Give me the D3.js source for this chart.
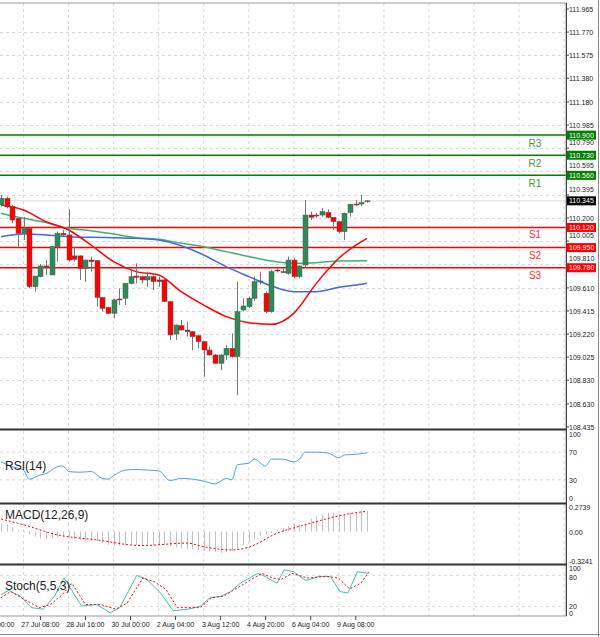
<!DOCTYPE html>
<html><head><meta charset="utf-8">
<script src="https://cdn.jsdelivr.net/npm/d3@7"></script>
<style>body{margin:0;background:#fff}svg{display:block;font-family:"Liberation Sans",Arial,sans-serif}</style>
</head><body><svg id="c" width="600" height="637"></svg>
<script>
const opens=[110.310,110.366,110.296,110.197,110.071,110.113,109.620,109.705,109.795,109.719,109.958,110.071,110.057,109.880,109.880,109.775,109.845,109.840,109.530,109.446,109.395,109.516,109.522,109.648,109.710,109.705,109.677,109.705,109.677,109.677,109.494,109.220,109.291,109.254,109.240,109.206,109.156,109.085,109.043,108.973,109.043,109.100,109.029,109.423,109.451,109.522,109.662,109.564,109.409,109.761,109.747,109.733,109.845,109.705,109.803,110.225,110.225,110.225,110.248,110.206,110.169,110.085,110.245,110.318,110.318,110.341];
const highs=[110.394,110.380,110.310,110.197,110.211,110.113,109.710,109.812,109.845,109.958,110.085,110.099,110.273,109.958,109.885,109.850,109.874,109.845,109.530,109.450,109.520,109.606,109.648,109.775,109.817,109.715,109.747,109.715,109.705,109.690,109.500,109.300,109.339,109.325,109.245,109.215,109.160,109.114,109.050,109.050,109.128,109.226,109.662,109.522,109.536,109.705,109.747,109.580,109.760,109.775,109.775,109.874,109.860,109.800,110.352,110.254,110.240,110.282,110.273,110.210,110.175,110.245,110.320,110.352,110.394,110.350];
const lows=[110.296,110.282,110.155,109.958,110.014,109.606,109.578,109.699,109.719,109.719,109.831,110.050,109.831,109.831,109.677,109.662,109.747,109.451,109.409,109.390,109.353,109.465,109.465,109.640,109.648,109.648,109.620,109.592,109.620,109.490,109.170,109.170,109.250,109.198,109.085,109.100,108.860,109.040,108.970,108.917,109.001,109.020,108.705,109.410,109.440,109.500,109.640,109.395,109.400,109.740,109.740,109.720,109.691,109.690,109.783,110.183,110.200,110.210,110.197,110.099,110.071,110.014,110.211,110.300,110.300,110.330];
const closes=[110.366,110.296,110.183,110.071,110.113,109.620,109.710,109.795,109.783,109.958,110.071,110.057,109.845,109.851,109.775,109.845,109.831,109.530,109.437,109.395,109.508,109.508,109.648,109.705,109.699,109.677,109.705,109.662,109.662,109.494,109.212,109.296,109.254,109.240,109.198,109.156,109.085,109.043,108.973,109.043,109.100,109.029,109.409,109.457,109.522,109.662,109.668,109.409,109.747,109.755,109.741,109.845,109.705,109.795,110.225,110.206,110.217,110.254,110.206,110.169,110.085,110.240,110.316,110.310,110.330,110.345];
const maIdx=[0,4,8,12,16,20,24,28,32,36,40,44,48,52,56,60,64,65];
const maRed=[110.310,110.268,110.169,110.099,109.972,109.831,109.747,109.719,109.578,109.465,109.367,109.316,109.302,109.395,109.648,109.860,110.000,110.028];
const maGreen=[110.240,110.197,110.161,110.113,110.093,110.065,110.034,110.020,109.986,109.958,109.916,109.874,109.837,109.817,109.823,109.837,109.840,109.840];
const maBlue=[110.042,110.065,110.057,110.042,110.037,110.034,110.028,110.014,109.966,109.888,109.789,109.705,109.626,109.578,109.578,109.615,109.640,109.648];
const levels=[{n:"R3",v:110.900,t:"110.900"},{n:"R2",v:110.730,t:"110.730"},{n:"R1",v:110.560,t:"110.560"},{n:"S1",v:110.120,t:"110.120"},{n:"S2",v:109.950,t:"109.950"},{n:"S3",v:109.780,t:"109.780"}];
const priceTicks=["111.965","111.770","111.575","111.380","111.180","110.985","110.790","110.595","110.395","110.200","110.005","109.810","109.610","109.415","109.220","109.025","108.830","108.630","108.435"];
const lastPrice="110.345";
const rsiIdx=[0,2,4,5,7,8,10,11,12,14,16,18,19,20,22,24,26,28,30,32,34,36,38,40,41,42,44,45,47,48,50,52,53,54,56,58,60,61,63,65];
const rsiVal=[56,49,44,31,37,39,49,50,42,41,42,32,31,36,44,45,44,43,29,32,31,28,24,32,30,52,54,60,50,60,60,56,60,70,70,69,62,66,67,69];
const macdHist=[0.09,0.08,0.05,0.02,-0.01,-0.03,-0.06,-0.08,-0.08,-0.07,-0.06,-0.06,-0.07,-0.08,-0.09,-0.1,-0.1,-0.11,-0.13,-0.15,-0.16,-0.16,-0.16,-0.15,-0.15,-0.15,-0.15,-0.15,-0.15,-0.15,-0.16,-0.18,-0.19,-0.2,-0.2,-0.21,-0.22,-0.23,-0.23,-0.24,-0.23,-0.22,-0.2,-0.15,-0.12,-0.09,-0.05,-0.03,-0.02,0.02,0.04,0.06,0.08,0.08,0.09,0.14,0.17,0.19,0.21,0.21,0.2,0.19,0.21,0.22,0.23,0.23];
const sigIdx=[0,4,10,17,25,33,36,41,44,49,54,59,63,65];
const sigVal=[0.14,0.075,-0.037,-0.094,-0.157,-0.13,-0.17,-0.206,-0.176,-0.02,0.075,0.16,0.21,0.225];
const stIdx=[0,1.4,3.4,5.4,7.5,9.5,11.2,14.3,17,19.4,21.1,24.1,25.9,28.2,30.6,33.3,35.4,37.1,39.1,40.8,42.5,45.6,46.9,49,50.3,52,54.1,56.5,58.5,60.2,61.6,63.3,65.3];
const stK=[43,51,40,18,15,40,75,21,24,8,18,80,72,48,12,15,21,37,40,49,65,84,78,65,91,87,70,78,78,49,46,87,84];
const sdIdx=[0,1.7,4.1,6.8,8.8,10.9,12.6,15,17.7,20.4,22.4,25.2,27.2,29.3,31.3,35.4,37.4,39.5,42.9,46.3,48.3,49.7,51.7,54.4,57.8,59.9,61.9,63.9,65.3];
const stD=[37,49,34,18,24,43,65,24,24,15,27,75,68,53,18,18,37,40,62,84,75,72,84,75,78,75,54,65,86];
const dateLabels=["26 Jul 00:00","27 Jul 08:00","28 Jul 16:00","30 Jul 00:00","2 Aug 04:00","3 Aug 12:00","4 Aug 20:00","6 Aug 04:00","9 Aug 08:00"];
const dateIdx=[-1,7,15,23,31,39,47,55,63];

const svg=d3.select("#c");
const R=566, L=0;
const x=d3.scaleLinear().domain([0,65]).range([1,367]);
const main={t:3,b:428}, rsiP={t:431,b:501}, macdP={t:505,b:563}, stP={t:566,b:616};
const y=d3.scaleLinear().domain([108.435,111.965]).range([427,9]);
const yR=d3.scaleLinear().domain([0,100]).range([500.5,431.5]);
const yM=d3.scaleLinear().domain([-0.3241,0.2739]).range([560.5,507]);
const yS=d3.scaleLinear().domain([0,100]).range([617,565]);
const grid="#d8d8d8";
const vg=[];for(let i=4;x(i)<R;i+=8)vg.push(i);
[main,rsiP,macdP,stP].forEach(p=>{
  svg.append("g").selectAll("line").data(vg).join("line").attr("x1",d=>x(d)).attr("x2",d=>x(d)).attr("y1",p.t).attr("y2",p.b).attr("stroke",grid).attr("stroke-dasharray","3,3");
});
svg.append("g").selectAll("line").data(priceTicks.slice(1,-1)).join("line").attr("x1",L).attr("x2",R).attr("y1",d=>Math.round(y(+d))+.5).attr("y2",d=>Math.round(y(+d))+.5).attr("stroke",grid).attr("stroke-dasharray","3,3");
[30,70].forEach(v=>svg.append("line").attr("x1",L).attr("x2",R).attr("y1",yR(v)).attr("y2",yR(v)).attr("stroke",grid).attr("stroke-dasharray","3,3"));
[20,80].forEach(v=>svg.append("line").attr("x1",L).attr("x2",R).attr("y1",yS(v)).attr("y2",yS(v)).attr("stroke",grid).attr("stroke-dasharray","3,3"));
svg.append("line").attr("x1",L).attr("x2",R).attr("y1",y(+lastPrice)).attr("y2",y(+lastPrice)).attr("stroke","#e6e6e6").attr("stroke-width",1.5);
const lc=d=>d.n[0]==="R"?"#008000":"#ff0000";
svg.append("g").selectAll("line").data(levels).join("line").attr("x1",L).attr("x2",R).attr("y1",d=>y(d.v)).attr("y2",d=>y(d.v)).attr("stroke",lc).attr("stroke-width",1.5);
svg.append("g").selectAll("text").data(levels).join("text").attr("x",535).attr("y",d=>y(d.v)+(d.n[0]==="R"?12:11)).attr("text-anchor","middle").attr("font-size",10).attr("fill",d=>d.n[0]==="R"?"#3c9a3c":"#ff3030").text(d=>d.n);
const ln=(arrI,arrV,ys)=>d3.line().x((d,i)=>x(arrI[i])).y(d=>ys(d)).curve(d3.curveMonotoneX)(arrV);
svg.append("path").attr("d",ln(maIdx,maGreen,y)).attr("fill","none").attr("stroke","#3cb371").attr("stroke-width",1.5);
svg.append("path").attr("d",ln(maIdx,maBlue,y)).attr("fill","none").attr("stroke","#4169e1").attr("stroke-width",1.5);
svg.append("path").attr("d",ln(maIdx,maRed,y)).attr("fill","none").attr("stroke","#ff0000").attr("stroke-width",1.5);
const cg=svg.append("g");
opens.forEach((o,i)=>{
  const c=closes[i],cx=Math.round(x(i))+.5,up=c>=o;
  cg.append("line").attr("x1",cx).attr("x2",cx).attr("y1",y(highs[i])).attr("y2",y(lows[i])).attr("stroke","#777");
  const t=y(Math.max(o,c)),h=Math.max(1,Math.abs(y(o)-y(c)));
  cg.append("rect").attr("x",cx-2.5).attr("y",t).attr("width",5).attr("height",h).attr("fill",up?"#2e8b57":"#ff0000").attr("stroke","#555").attr("stroke-width",0.5);
});
svg.append("path").attr("d",ln(rsiIdx,rsiVal,yR)).attr("fill","none").attr("stroke","#4aa0ee").attr("stroke-width",1);
svg.append("g").selectAll("line").data(macdHist).join("line").attr("x1",(d,i)=>Math.round(x(i))+.5).attr("x2",(d,i)=>Math.round(x(i))+.5).attr("y1",yM(0)).attr("y2",d=>yM(d)).attr("stroke","#c0c0c0");
svg.append("path").attr("d",ln(sigIdx,sigVal,yM)).attr("fill","none").attr("stroke","#ff0000").attr("stroke-dasharray","2,2");
svg.append("path").attr("d",d3.line().x((d,i)=>x(stIdx[i])).y(d=>yS(d))(stK)).attr("fill","none").attr("stroke","#40c0c0");
svg.append("path").attr("d",d3.line().x((d,i)=>x(sdIdx[i])).y(d=>yS(d))(stD)).attr("fill","none").attr("stroke","#ff0000").attr("stroke-dasharray","2,2");
const pl=[["RSI(14)",470],["MACD(12,26,9)",519],["Stoch(5,5,3)",590]];
pl.forEach(p=>svg.append("text").attr("x",5).attr("y",p[1]).attr("font-size",12).attr("fill","#222").text(p[0]));
svg.append("rect").attr("x",-1).attr("y",3).attr("width",R+1).attr("height",613).attr("fill","none").attr("stroke","#999");
[429.5,503.5,564.5].forEach(v=>svg.append("line").attr("x1",0).attr("x2",R).attr("y1",v).attr("y2",v).attr("stroke","#333").attr("stroke-width",2));
svg.append("line").attr("x1",R+.5).attr("x2",R+.5).attr("y1",3).attr("y2",616).attr("stroke","#444");
svg.append("line").attr("x1",0).attr("x2",600).attr("y1",634.5).attr("y2",634.5).attr("stroke","#888");
svg.append("line").attr("x1",598.5).attr("x2",598.5).attr("y1",0).attr("y2",637).attr("stroke","#888");
const fs=7;
const ax=svg.append("g").attr("font-size",fs).attr("fill","#222");
const near=t=>levels.some(l=>Math.abs(y(l.v)-y(+t))<8)||Math.abs(y(+lastPrice)-y(+t))<6;
priceTicks.forEach(t=>{const yy=y(+t);svg.append("line").attr("x1",R).attr("x2",R+3).attr("y1",yy).attr("y2",yy).attr("stroke","#444");ax.append("text").attr("x",569).attr("y",yy+(near(t)?-3:3)).text(t);});
levels.forEach(d=>{const yy=y(d.v);svg.append("rect").attr("x",567).attr("y",yy-4.5).attr("width",29).attr("height",9).attr("fill",d.n[0]==="R"?"#008000":"#ff0000");svg.append("text").attr("x",569).attr("y",yy+2.5).attr("font-size",fs).attr("fill","#fff").text(d.t);});
svg.append("rect").attr("x",567).attr("y",y(+lastPrice)-4.5).attr("width",29).attr("height",9).attr("fill","#000");
svg.append("text").attr("x",569).attr("y",y(+lastPrice)+2.5).attr("font-size",fs).attr("fill","#fff").text(lastPrice);
[[100,"100",5],[70,"70",3],[30,"30",3],[0,"0",0]].forEach(d=>ax.append("text").attr("x",569).attr("y",yR(d[0])+d[2]).text(d[1]));
[[0.2739,"0.2739",3],[0,"0.00",3],[-0.3241,"-0.3241",3]].forEach(d=>ax.append("text").attr("x",569).attr("y",yM(d[0])+d[2]).text(d[1]));
[[100,"100",6],[80,"80",5],[20,"20",2],[0,"0",-1]].forEach(d=>ax.append("text").attr("x",569).attr("y",yS(d[0])+d[2]).text(d[1]));
dateIdx.forEach((d,i)=>{const xx=x(d);svg.append("line").attr("x1",xx).attr("x2",xx).attr("y1",616).attr("y2",620).attr("stroke","#444");svg.append("text").attr("x",xx).attr("y",627).attr("text-anchor","middle").attr("font-size",fs).attr("fill","#222").text(dateLabels[i]);});
</script></body></html>
